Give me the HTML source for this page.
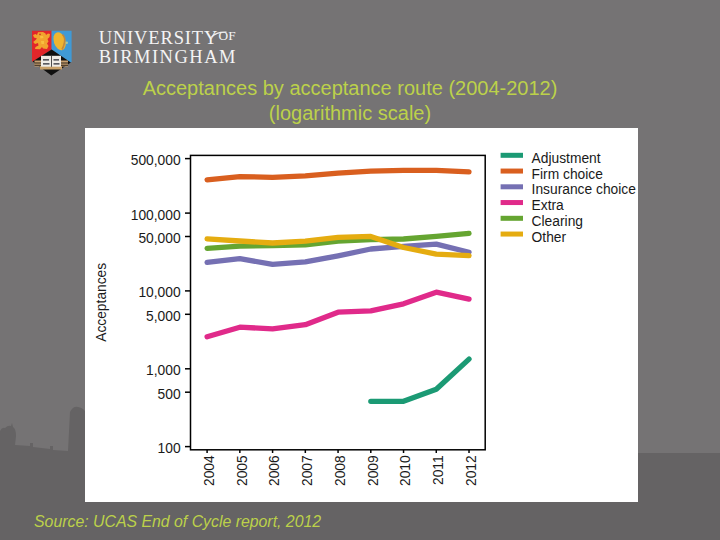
<!DOCTYPE html>
<html><head><meta charset="utf-8">
<style>
html,body{margin:0;padding:0;width:720px;height:540px;overflow:hidden;background:#757374;}
svg{display:block}
text{font-family:"Liberation Sans",sans-serif;}
.serif{font-family:"Liberation Serif",serif;}
</style></head><body>
<svg width="720" height="540" viewBox="0 0 720 540">
<rect width="720" height="540" fill="#757374"/>

<path d="M0,431 Q2,427 5,428 Q8,425 11,426 L12,423 L13,427 Q16,429 16,436 L15,445 L30,446 L30,443 L33,443 L33,447 L50,449 L50,446 L53,446 L53,450 L68,451 L70,412 Q73,406 78,407 Q84,408 86,413 L86,540 L0,540 Z" fill="#656364"/>
<rect x="80" y="453" width="640" height="87" fill="#656364"/>
<g>
<path d="M32,30.8 H51.6 V49.6 L32.9,61.7 L32,61.2 Z" fill="#e2262a"/>
<path d="M51.6,30.8 H71.6 V62 L70.5,62.6 L51.6,49.6 Z" fill="#409ad6"/>
<path d="M51.6,49.6 L70.8,62.4 L51.3,75.6 L32.6,61.6 Z" fill="#101010"/>
<path d="M38,32.2 L43,32 L45.5,33.5 L46,35 L48,33.5 L50,34 L49.5,37 L47.5,39 L48.5,41.5 L47,43.5 L48.5,46 L47,49 L43,48.5 L42,47 L40,49.2 L35,49 L35.5,47 L38.5,45.5 L38,43 L35,44 L33.2,42 L35.5,40 L37,38.5 L34,37.5 L33,35 L35.5,34 L37,35 Z" fill="#f2a42e"/>
<path d="M40,36 l3,0 l0.5,2 l-3,0.5z M41,41 l3,0 l0,3 l-2.5,0z" fill="#f8c040"/>
<circle cx="40" cy="34.4" r="0.8" fill="#c83020"/>
<ellipse cx="59.6" cy="41.2" rx="5.8" ry="9.2" transform="rotate(-18 59.6 41.2)" fill="#f0b530"/>
<path d="M62.5,34.5 q3,3 2,8 q-1,5 -2.5,7" stroke="#c08840" stroke-width="1.6" fill="none"/>
<circle cx="66.8" cy="42.7" r="1.2" fill="#a8c8a0"/>
<path d="M34.5,60.5 h7 v6 h-7z M60.5,60.5 h7.5 v6 h-7.5z" fill="#c8a070"/>
<path d="M34.5,62.5 h7 v1 h-7z M34.5,64.8 h7 v0.9 h-7z M60.5,62.5 h7.5 v1 h-7.5z M60.5,64.8 h7.5 v0.9 h-7.5z" fill="#2a2218"/>
<path d="M40,66 h22 v3.5 h-22z" fill="#c9a068"/>
<rect x="41" y="55.8" width="20" height="10.9" fill="#f0ece6"/>
<rect x="51.1" y="55.8" width="0.9" height="11" fill="#3a3a3a"/>
<path d="M43,59.3 h6 v1.2 h-6z M53.5,59.3 h5.5 v1.2 h-5.5z M43,63.3 h6.5 v1.2 h-6.5z M53.5,63.3 h6 v1.2 h-6z" fill="#2a2a33"/>
</g>
<text class="serif" x="98.7" y="44" font-size="18.5" fill="#f4f4f4" textLength="118.6" lengthAdjust="spacing">UNIVERSITY</text>
<text class="serif" x="218.6" y="40.4" font-size="12.5" fill="#f4f4f4" textLength="17" lengthAdjust="spacingAndGlyphs">OF</text>
<path d="M211.5,37 Q217,31.5 226.5,32.2" stroke="#eeeeee" stroke-width="1.2" fill="none"/>
<text class="serif" x="98.7" y="63.1" font-size="18.5" fill="#f4f4f4" textLength="136.8" lengthAdjust="spacing">BIRMINGHAM</text>
<text x="350" y="95" font-size="20" fill="#bcd14a" text-anchor="middle">Acceptances by acceptance route (2004-2012)</text>
<text x="350" y="119.6" font-size="20" fill="#bcd14a" text-anchor="middle">(logarithmic scale)</text>
<rect x="85" y="128" width="553" height="374" fill="#ffffff"/>
<rect x="190.5" y="155.4" width="294.7" height="294.4" fill="none" stroke="#000" stroke-width="1.5"/>
<g stroke="#000" stroke-width="1.5">
<line x1="185" y1="158.6" x2="190.5" y2="158.6"/>
<line x1="185" y1="213.1" x2="190.5" y2="213.1"/>
<line x1="185" y1="236.5" x2="190.5" y2="236.5"/>
<line x1="185" y1="290.9" x2="190.5" y2="290.9"/>
<line x1="185" y1="314.3" x2="190.5" y2="314.3"/>
<line x1="185" y1="368.8" x2="190.5" y2="368.8"/>
<line x1="185" y1="392.2" x2="190.5" y2="392.2"/>
<line x1="185" y1="446.6" x2="190.5" y2="446.6"/>
<line x1="207.10" y1="450" x2="207.10" y2="453"/>
<line x1="239.84" y1="450" x2="239.84" y2="453"/>
<line x1="272.58" y1="450" x2="272.58" y2="453"/>
<line x1="305.32" y1="450" x2="305.32" y2="453"/>
<line x1="338.06" y1="450" x2="338.06" y2="453"/>
<line x1="370.80" y1="450" x2="370.80" y2="453"/>
<line x1="403.54" y1="450" x2="403.54" y2="453"/>
<line x1="436.28" y1="450" x2="436.28" y2="453"/>
<line x1="469.02" y1="450" x2="469.02" y2="453"/>
</g>
<g font-size="13.8" fill="#1a1a1a" text-anchor="end">
<text x="180.6" y="165.0">500,000</text>
<text x="180.6" y="219.5">100,000</text>
<text x="180.6" y="242.9">50,000</text>
<text x="180.6" y="297.3">10,000</text>
<text x="180.6" y="320.7">5,000</text>
<text x="180.6" y="375.1">1,000</text>
<text x="180.6" y="398.6">500</text>
<text x="180.6" y="453.0">100</text>
<text transform="translate(213.90,455.3) rotate(-90)">2004</text>
<text transform="translate(246.64,455.3) rotate(-90)">2005</text>
<text transform="translate(279.38,455.3) rotate(-90)">2006</text>
<text transform="translate(312.12,455.3) rotate(-90)">2007</text>
<text transform="translate(344.86,455.3) rotate(-90)">2008</text>
<text transform="translate(377.60,455.3) rotate(-90)">2009</text>
<text transform="translate(410.34,455.3) rotate(-90)">2010</text>
<text transform="translate(443.08,455.3) rotate(-90)">2011</text>
<text transform="translate(475.82,455.3) rotate(-90)">2012</text>
</g>
<text transform="translate(105.6,302.3) rotate(-90)" font-size="13.8" fill="#1a1a1a" text-anchor="middle">Acceptances</text>
<g fill="none" stroke-width="5.3" stroke-linecap="round" stroke-linejoin="round">
<polyline stroke="#d95f1f" points="207.10,179.8 239.84,176.6 272.58,177.3 305.32,175.8 338.06,173.2 370.80,171.1 403.54,170.3 436.28,170.3 469.02,171.9"/>
<polyline stroke="#7570b3" points="207.10,262.4 239.84,258.6 272.58,264.4 305.32,261.9 338.06,255.8 370.80,249 403.54,246.4 436.28,244.1 469.02,252.2"/>
<polyline stroke="#65a531" points="207.10,248.4 239.84,246.2 272.58,245.5 305.32,244.9 338.06,241.2 370.80,239.6 403.54,239 436.28,236.4 469.02,233.4"/>
<polyline stroke="#e5ac10" points="207.10,238.9 239.84,241 272.58,243 305.32,241.2 338.06,237.3 370.80,236.4 403.54,247.5 436.28,254.1 469.02,255.6"/>
<polyline stroke="#e02a8a" points="207.10,336.8 239.84,327.2 272.58,328.8 305.32,324.7 338.06,312.2 370.80,310.8 403.54,303.8 436.28,292.2 469.02,299.1"/>
<polyline stroke="#1b9a74" points="370.80,401.3 403.54,401.3 436.28,389.3 469.02,359.1"/>
</g>
<rect x="500.6" y="152.80" width="22.4" height="5" fill="#1b9a74"/>
<text x="531.6" y="162.80" font-size="13.8" fill="#1a1a1a">Adjustment</text>
<rect x="500.6" y="168.55" width="22.4" height="5" fill="#d95f1f"/>
<text x="531.6" y="178.55" font-size="13.8" fill="#1a1a1a">Firm choice</text>
<rect x="500.6" y="184.30" width="22.4" height="5" fill="#7570b3"/>
<text x="531.6" y="194.30" font-size="13.8" fill="#1a1a1a">Insurance choice</text>
<rect x="500.6" y="200.05" width="22.4" height="5" fill="#e02a8a"/>
<text x="531.6" y="210.05" font-size="13.8" fill="#1a1a1a">Extra</text>
<rect x="500.6" y="215.80" width="22.4" height="5" fill="#65a531"/>
<text x="531.6" y="225.80" font-size="13.8" fill="#1a1a1a">Clearing</text>
<rect x="500.6" y="231.55" width="22.4" height="5" fill="#e5ac10"/>
<text x="531.6" y="241.55" font-size="13.8" fill="#1a1a1a">Other</text>
<text x="34" y="527" font-size="15.85" font-style="italic" fill="#bcd14a">Source: UCAS End of Cycle report, 2012</text>
</svg>
</body></html>
